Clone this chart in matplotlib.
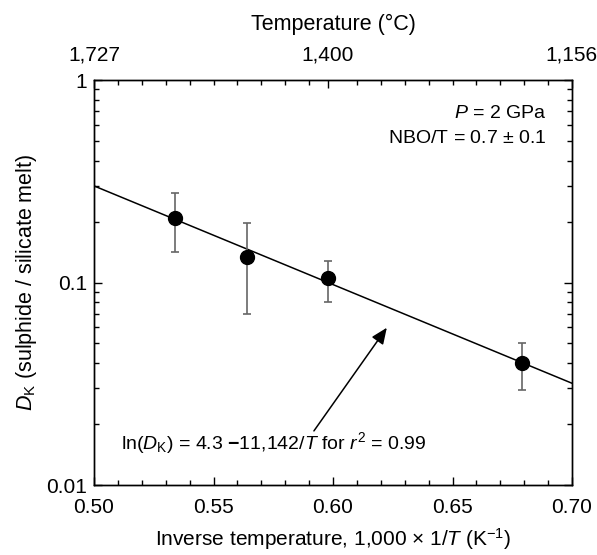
import numpy as np
import matplotlib
matplotlib.use('Agg')
import matplotlib.pyplot as plt
from matplotlib.ticker import MultipleLocator, NullFormatter, FixedLocator

plt.rcParams['font.family'] = ['Liberation Sans', 'DejaVu Sans']
plt.rcParams['mathtext.fontset'] = 'custom'
plt.rcParams['mathtext.rm'] = 'Liberation Sans'
plt.rcParams['mathtext.it'] = 'Liberation Sans:italic'
plt.rcParams['mathtext.bf'] = 'Liberation Sans:bold'

# measured points: 1000/T (K^-1) and D_K with error bar limits
inv_t = [0.534, 0.564, 0.598, 0.679]
d_k = [0.209, 0.133, 0.105, 0.0399]
d_k_hi = [0.276, 0.197, 0.128, 0.0501]
d_k_lo = [0.142, 0.0699, 0.0804, 0.0294]

# fitted line end points
fit_x = [0.50, 0.70]
fit_y = [0.300, 0.0318]

# top axis temperatures (deg C)
temp_c = [1727, 1400, 1156]
temp_labels = ['1,727', '1,400', '1,156']

x_ticks = [0.50, 0.55, 0.60, 0.65, 0.70]
y_ticks = [0.01, 0.1, 1]
y_labels = ['0.01', '0.1', '1']

fig = plt.figure(figsize=(5.97, 5.55), dpi=100)
ax = fig.add_axes([0.1575, 0.1261, 0.8007, 0.7297])

ax.plot(fit_x, fit_y, color='black', lw=1.1, zorder=2)
yerr = [np.array(d_k) - np.array(d_k_lo), np.array(d_k_hi) - np.array(d_k)]
ax.errorbar(inv_t, d_k, yerr=yerr, fmt='none', ecolor='#666666', elinewidth=1.2,
            capsize=3, capthick=1.2, zorder=3)
ax.plot(inv_t, d_k, 'o', color='black', markersize=10, zorder=4)

ax.set_yscale('log')
ax.set_xlim(0.5, 0.7)
ax.set_ylim(0.01, 1)
ax.set_xticks(x_ticks)
ax.set_xticklabels(['%.2f' % v for v in x_ticks])
ax.xaxis.set_minor_locator(MultipleLocator(0.01))
ax.set_yticks(y_ticks)
ax.set_yticklabels(y_labels)
ax.yaxis.set_minor_formatter(NullFormatter())
ax.tick_params(which='both', direction='in', right=True, top=False, labelsize=15, width=1)
ax.tick_params(which='major', length=6)
ax.tick_params(which='minor', length=3.5)
ax.tick_params(axis='x', which='major', pad=9)
ax.tick_params(axis='y', which='major', pad=5)

ax.set_xlabel(r'Inverse temperature, 1,000 $\times$ 1/$T$ (K$^{-1}$)', fontsize=15, labelpad=7)
ax.set_ylabel(r'$D_{\mathrm{K}}$ (sulphide / silicate melt)', fontsize=15.5, labelpad=5)

# top axis in deg C
ax2 = ax.twiny()
ax2.set_xlim(ax.get_xlim())
ax2.set_xticks([1000.0 / (t + 273) for t in temp_c])
ax2.set_xticklabels(temp_labels)
minor_top = [v for v in np.arange(0.51, 0.695, 0.01) if abs(v - 0.6) > 0.005]
ax2.xaxis.set_minor_locator(FixedLocator(minor_top))
ax2.tick_params(which='both', direction='in', labelsize=15, width=1)
ax2.tick_params(which='major', length=6, pad=11)
ax2.tick_params(which='minor', length=3.5)
ax2.set_xlabel('Temperature (°C)', fontsize=15.5, labelpad=11)

for a in (ax, ax2):
    for s in a.spines.values():
        s.set_linewidth(1)

ax.text(0.947, 0.906, r'$P$ = 2 GPa', transform=ax.transAxes, ha='right', va='baseline', fontsize=14)
ax.text(0.947, 0.844, r'NBO/T = 0.7 $\pm$ 0.1', transform=ax.transAxes, ha='right', va='baseline', fontsize=14)

ax.annotate('', xy=(0.6225, 0.0598), xytext=(0.592, 0.0185),
            arrowprops=dict(arrowstyle='-|>,head_length=0.7,head_width=0.3', mutation_scale=14,
                            color='black', lw=1.1, shrinkA=0, shrinkB=0))
ax.text(0.5113, 0.01506, r'ln($D_{\mathrm{K}}$) = 4.3 $\mathbf{-}$11,142/$T$ for $r^2$ = 0.99',
        ha='left', va='baseline', fontsize=14)

fig.savefig('out.png', dpi=100)
